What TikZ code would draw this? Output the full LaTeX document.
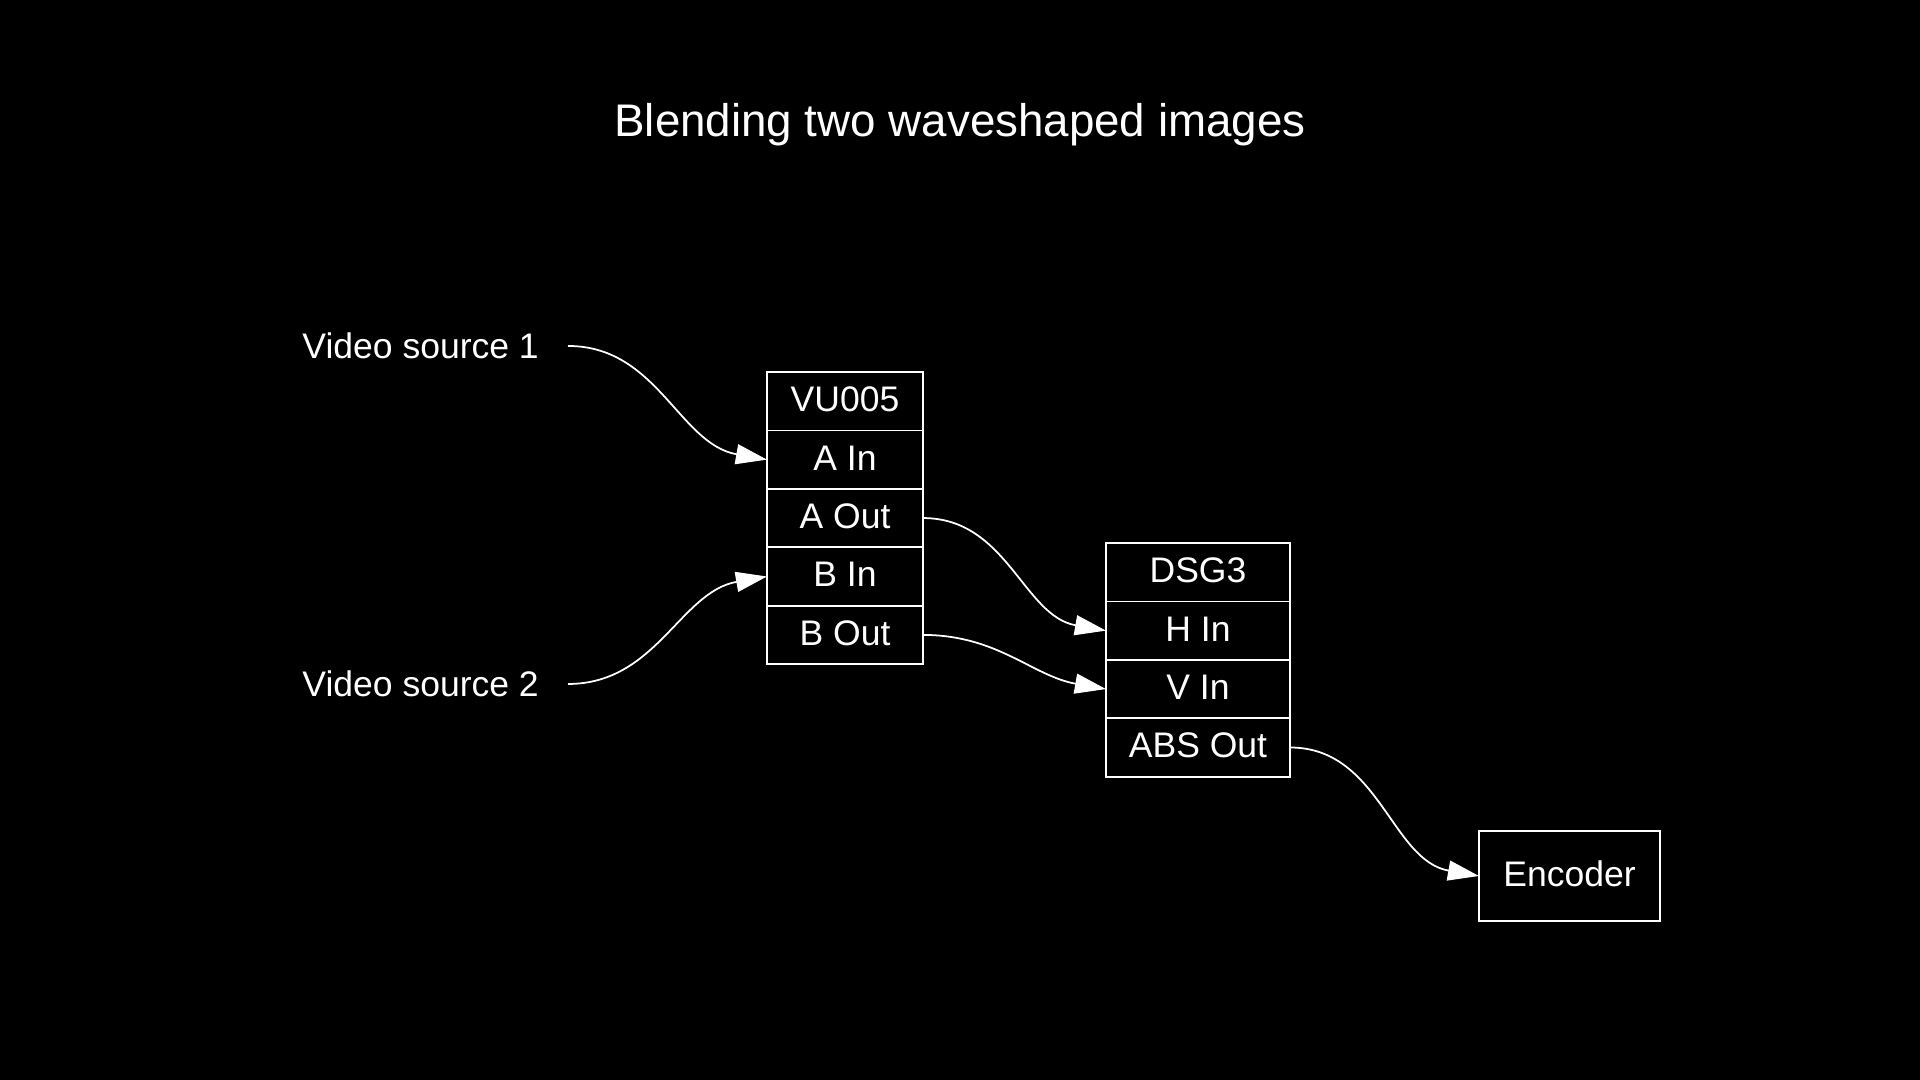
\documentclass[tikz,border=0pt]{standalone}
\usepackage{fontspec}
\setmainfont{Liberation Sans}
\usetikzlibrary{arrows.meta,positioning}
\definecolor{bg}{HTML}{000000}
\definecolor{ink}{HTML}{FFFFFF}
\tikzset{
  lbl/.style={font=\fontsize{10.1}{12}\selectfont, text=ink},
  cell/.style={lbl, draw=ink, line width=0.5pt, outer sep=0pt, inner sep=0pt, minimum height=0.584cm, text height=0.73em, text depth=0.14em},
  src/.style={lbl, anchor=east, inner xsep=0.285cm, inner ysep=0pt},
  wire/.style={draw=ink, line width=0.5pt, -{Triangle[length=0.31cm,width=0.2cm]}},
}

\begin{document}
\begin{tikzpicture}[x=0.01cm, y=0.01cm]
  \fill[bg] (0,0) rectangle (1920,1080);
  \node[lbl, font=\fontsize{13}{15}\selectfont, anchor=base] (title) at (960,943) {Blending two waveshaped images};

  % sources
  \node[src] (src1) at (568,734) {Video source 1};
  \node[src] (src2) at (568,396) {Video source 2};

  % VU005 record
  \node[cell, minimum width=1.56cm, anchor=north] (vu) at (845,708) {VU005};
  \foreach \n/\t [remember=\n as \prev (initially vu)] in {ain/A In, aout/A Out, bin/B In, bout/B Out}
    \node[cell, minimum width=1.56cm, below=0pt of \prev] (\n) {\t};

  % DSG3 record
  \node[cell, minimum width=1.84cm, anchor=north] (dsg) at (1198,537) {DSG3};
  \foreach \n/\t [remember=\n as \prev (initially dsg)] in {hin/H In, vin/V In, absout/ABS Out}
    \node[cell, minimum width=1.84cm, below=0pt of \prev] (\n) {\t};

  \node[cell, minimum width=1.81cm, minimum height=0.9cm] (enc) at (1569.5,204) {Encoder};

  % wiring
  \draw[wire] (src1.east) to[out=0, in=170] (ain.west);
  \draw[wire] (src2.east) to[out=0, in=190] (bin.west);
  \draw[wire] (aout.east) to[out=0, in=170] (hin.west);
  \draw[wire] (bout.east) to[out=0, in=170] (vin.west);
  \draw[wire] (absout.east) to[out=0, in=170] (enc.west);
\end{tikzpicture}
\end{document}
